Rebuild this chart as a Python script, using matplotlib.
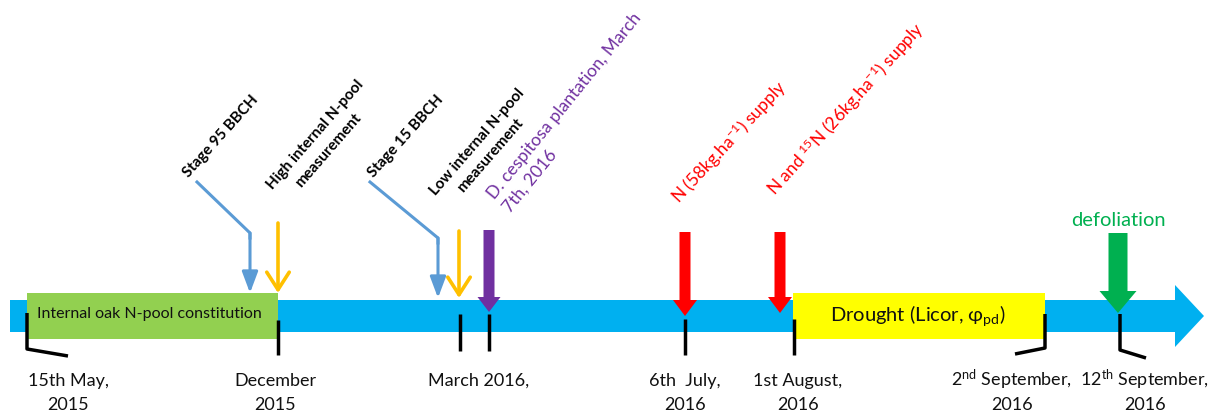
import matplotlib.pyplot as plt
from matplotlib.patches import Polygon, Rectangle

plt.rcParams['font.family'] = ['Lato', 'DejaVu Sans']
plt.rcParams['mathtext.fontset'] = 'custom'
plt.rcParams['mathtext.rm'] = 'Lato'
plt.rcParams['mathtext.it'] = 'Lato:italic'
plt.rcParams['mathtext.bf'] = 'Lato:bold'

# timeline dates (x = position along the time arrow)
date_x = [68, 275, 479, 685, 798, 1012, 1145]
date_labels = ['15th May,\n2015', 'December\n2015', 'March 2016,',
               '6th  July,\n2016', '1st August,\n2016',
               '2$\\mathregular{^{nd}}$ September,\n2016',
               '12$\\mathregular{^{th}}$ September,\n2016']

# black tick marks: x, top, bottom, hook (dx, dy) at bottom
tick_x = [27, 278, 460, 489, 685, 794, 1045, 1120]
tick_top = [313, 320, 314, 314, 319, 319, 314, 314]
tick_bottom = [349, 355, 351, 351, 355, 355, 348, 350]
tick_hook = [(41, 7), None, None, None, None, None, (-30, 6), (26, 8)]

# periods (boxes on the time arrow)
periods = ['Internal oak N-pool constitution', 'Drought (Licor, φ$_{\\mathregular{pd}}$)']
period_start = [27, 793]
period_end = [278, 1045]
period_colors = ['#92D050', '#FFFF00']

# thin event arrows
stage_labels = ['Stage 95 BBCH', 'Stage 15 BBCH']
stage_x = [250, 438]
stage_tip = [293, 298]
stage_knee_y = [233, 238]
stage_start = [(197, 182), (370, 182)]
stage_text_xy = [(189, 178), (374, 178)]

measure_labels = [('High internal N-pool', 'measurement'), ('Low internal N-pool', 'measurement')]
measure_x = [278, 459]
measure_top = [223, 231]
measure_tip = [293, 298]
measure_text_xy = [((273, 190), (301, 188)), ((436, 196), (463, 193))]

# thick event arrows
thick_x = [489, 685, 780, 1118]
thick_top = [230, 232, 232, 233]
thick_tip = [312, 316, 313, 313]
thick_shaft = [11, 11, 11, 19]
thick_head = [23, 24, 24, 37]
thick_headlen = [15, 16, 16, 22]
thick_colors = ['#7030A0', '#FF0000', '#FF0000', '#00B050']

fig = plt.figure(figsize=(12.15, 4.16), dpi=100)
ax = fig.add_axes([0, 0, 1, 1])
ax.set_xlim(0, 1215)
ax.set_ylim(416, 0)
ax.axis('off')

# main time arrow
ax.add_patch(Polygon([(10, 300), (1175, 300), (1175, 285), (1204, 316),
                      (1175, 347), (1175, 332), (10, 332)],
                     closed=True, color='#00B0F0', lw=0, zorder=1))

for name, x0, x1, c in zip(periods, period_start, period_end, period_colors):
    ax.add_patch(Rectangle((x0, 293), x1 - x0, 46, color=c, lw=0, zorder=2))
ax.text(37, 314, periods[0], fontsize=11.5, color='#111111', ha='left', va='center', zorder=5)
ax.text(918, 316, periods[1], fontsize=14.5, color='#111111', ha='center', va='center', zorder=5)

# ticks
for x, t, b, h in zip(tick_x, tick_top, tick_bottom, tick_hook):
    xs, ys = [x, x], [t, b]
    if h is not None:
        xs.append(x + h[0])
        ys.append(b + h[1])
    ax.plot(xs, ys, color='black', lw=2.5, solid_capstyle='butt', zorder=6)

# date labels, one text per line so every line sits on the same baseline
for x, lab in zip(date_x, date_labels):
    for i, line in enumerate(lab.split('\n')):
        ax.text(x, 386 + 24 * i, line, fontsize=13, ha='center', va='baseline',
                color='#111111', zorder=5)

# stage arrows (light blue)
for (sx, sy), x, ky, tip in zip(stage_start, stage_x, stage_knee_y, stage_tip):
    ax.plot([sx, x, x], [sy, ky, ky + 5], color='#5B9BD5', lw=2.2, zorder=4)
    ax.annotate('', xy=(x, tip), xytext=(x, ky),
                arrowprops=dict(arrowstyle='-|>,head_length=0.8,head_width=0.3',
                                color='#5B9BD5', lw=2.2, shrinkA=0, shrinkB=0,
                                mutation_scale=16), zorder=4)
for lab, (tx, ty) in zip(stage_labels, stage_text_xy):
    ax.text(tx, ty, lab, fontsize=11, fontweight='bold', rotation=48,
            rotation_mode='anchor', ha='left', va='baseline')

# N-pool measurement arrows (orange)
for x, top, tip in zip(measure_x, measure_top, measure_tip):
    ax.annotate('', xy=(x, tip), xytext=(x, top),
                arrowprops=dict(arrowstyle='->,head_length=0.7,head_width=0.45',
                                color='#FFC000', lw=2.6, shrinkA=0, shrinkB=0,
                                mutation_scale=18), zorder=4)
for (l1, l2), (p1, p2) in zip(measure_labels, measure_text_xy):
    ax.text(p1[0], p1[1], l1, fontsize=11, fontweight='bold', rotation=49,
            rotation_mode='anchor', ha='left', va='baseline')
    ax.text(p2[0], p2[1], l2, fontsize=11, fontweight='bold', rotation=49,
            rotation_mode='anchor', ha='left', va='baseline')

# thick block arrows
for x, top, tip, sw, hw, hl, c in zip(thick_x, thick_top, thick_tip, thick_shaft,
                                      thick_head, thick_headlen, thick_colors):
    pts = [(x - sw / 2, top), (x + sw / 2, top), (x + sw / 2, tip - hl),
           (x + hw / 2, tip - hl), (x, tip), (x - hw / 2, tip - hl),
           (x - sw / 2, tip - hl)]
    ax.add_patch(Polygon(pts, closed=True, color=c, lw=0, zorder=7))

ax.text(495, 200, 'D. cespitosa plantation, March', fontsize=12.6, color='#7030A0',
        rotation=51, rotation_mode='anchor', ha='left', va='baseline')
ax.text(510, 214, '7th, 2016', fontsize=12.6, color='#7030A0',
        rotation=51, rotation_mode='anchor', ha='left', va='baseline')
ax.text(679, 205, 'N (58kg.ha$\\mathregular{^{-1}}$) supply', fontsize=12.6, color='#FF0000',
        rotation=47, rotation_mode='anchor', ha='left', va='baseline')
ax.text(775, 197, 'N and $\\mathregular{^{15}}$N (26kg.ha$\\mathregular{^{-1}}$) supply',
        fontsize=12.6, color='#FF0000', rotation=48, rotation_mode='anchor',
        ha='left', va='baseline')
ax.text(1118, 220, 'defoliation', fontsize=14.5, color='#00B050', ha='center', va='center')

fig.savefig('out.png', dpi=100)
